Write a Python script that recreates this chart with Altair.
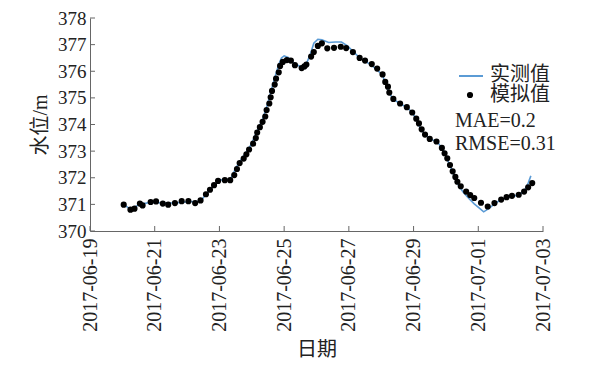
import altair as alt
import pandas as pd

# simulated (points): hours since 2017-06-19 00:00 and water level
sim_hours = [25, 30, 33, 37, 39, 45, 49, 54, 58, 63, 68, 73, 78, 82, 86, 89, 92, 95, 100, 104,
             107, 109, 111, 114, 116, 118, 121, 123, 124, 126, 128, 130, 131, 133, 134, 135, 137, 138, 140, 141,
             143, 146, 149, 152, 157, 159, 160.5, 164, 166, 169, 172, 176, 181, 186, 190, 195, 200, 204, 209, 213,
             217, 219, 221, 222, 225, 230, 235, 239, 242, 244, 246, 248.5, 252, 257, 261, 263, 265, 267, 269, 271,
             272.5, 275, 279, 282, 285, 290, 295, 300, 305, 309, 313, 318, 322, 325, 328]
sim_vals = [370.99, 370.80, 370.84, 371.03, 370.96, 371.09, 371.11, 371.03, 370.99, 371.05,
            371.12, 371.12, 371.05, 371.15, 371.38, 371.55, 371.72, 371.88, 371.91, 371.91,
            372.10, 372.33, 372.55, 372.72, 372.88, 373.06, 373.28, 373.49, 373.70, 373.90,
            374.10, 374.30, 374.54, 374.79, 375.02, 375.26, 375.50, 375.72, 375.96, 376.20,
            376.35, 376.42, 376.40, 376.23, 376.12, 376.18, 376.25, 376.55, 376.72, 376.95,
            377.05, 376.86, 376.88, 376.92, 376.87, 376.72, 376.50, 376.40, 376.27, 376.10,
            375.88, 375.60, 375.42, 375.20, 374.96, 374.79, 374.65, 374.45, 374.22, 374.04,
            373.82, 373.62, 373.46, 373.36, 373.12, 372.92, 372.73, 372.48, 372.24, 372.03,
            371.85, 371.68, 371.48, 371.35, 371.24, 371.06, 370.92, 371.05, 371.18, 371.27,
            371.32, 371.36, 371.48, 371.64, 371.80]

# observed (line)
obs_hours = [25, 30, 37, 45, 54, 63, 73, 82, 86, 92, 97, 104, 108.5, 113, 119, 123, 128, 131, 134, 137,
             140, 142, 144, 147, 152, 157, 160, 163.5, 166, 169, 172, 177, 182, 186.5, 191, 195, 200, 204, 209, 213,
             217, 219, 222, 225, 230, 235, 239, 242, 245, 249, 253, 258, 262, 264.5, 267.5, 270.5, 273.5, 277, 281, 285,
             289, 292, 296, 300, 305, 309, 313, 318, 322, 325, 327]
obs_vals = [370.99, 370.82, 371.00, 371.08, 371.05, 371.05, 371.10, 371.12, 371.38, 371.72,
            371.92, 371.93, 372.40, 372.75, 373.20, 373.65, 374.20, 374.65, 375.20, 375.75,
            376.25, 376.50, 376.58, 376.52, 376.28, 376.15, 376.22, 376.65, 377.05, 377.20,
            377.18, 377.08, 377.10, 377.10, 376.95, 376.75, 376.50, 376.38, 376.22, 376.05,
            375.85, 375.55, 375.18, 374.95, 374.78, 374.65, 374.45, 374.20, 373.85, 373.60,
            373.45, 373.32, 373.05, 372.75, 372.40, 372.02, 371.70, 371.45, 371.22, 371.02,
            370.85, 370.72, 370.85, 371.02, 371.18, 371.25, 371.30, 371.35, 371.50, 371.80,
            372.07]

x_ticks = ["2017-06-19", "2017-06-21", "2017-06-23", "2017-06-25",
           "2017-06-27", "2017-06-29", "2017-07-01", "2017-07-03"]
y_ticks = [370, 371, 372, 373, 374, 375, 376, 377, 378]
legend_labels = ["实测值", "模拟值"]
stats_labels = ["MAE=0.2", "RMSE=0.31"]

start = pd.Timestamp("2017-06-19")
fmt = "%Y-%m-%dT%H:%M:%S"
sim = pd.DataFrame({"date": (start + pd.to_timedelta(sim_hours, unit="h")).strftime(fmt), "value": sim_vals})
obs = pd.DataFrame({"date": (start + pd.to_timedelta(obs_hours, unit="h")).strftime(fmt), "value": obs_vals})
xt = pd.DataFrame({"date": [d + "T00:00:00" for d in x_ticks]})
yt = pd.DataFrame({"value": y_ticks})

FONT = "'Liberation Serif', 'Noto Sans CJK SC', serif"
TXT = "#222222"
AX = "#666666"
BLUE = "#5b9bd5"
W, H = 453, 213


def dt(s):
    y, m, d = (int(v) for v in s.split("-"))
    return alt.DateTime(year=y, month=m, date=d)


xscale = alt.Scale(domain=[dt(x_ticks[0]), dt(x_ticks[-1])])
yscale = alt.Scale(domain=[y_ticks[0], y_ticks[-1]], nice=False, zero=False)

xaxis = alt.Axis(title="日期", values=[dt(s) for s in x_ticks], format="%Y-%m-%d",
                 labelAngle=270, ticks=False, tickSize=0, labelPadding=7,
                 labelOverlap=False, grid=False, titlePadding=8)
yaxis = alt.Axis(title="水位/m", values=y_ticks, ticks=False, tickSize=0, labelPadding=4,
                 labelFontSize=19, grid=False, titleX=-50, titleY=H / 2, titleAngle=270,
                 titleAlign="center", titleBaseline="middle")

x_enc = alt.X("date:T", scale=xscale, axis=xaxis)
y_enc = alt.Y("value:Q", scale=yscale, axis=yaxis)

line = alt.Chart(obs).mark_line(color=BLUE, strokeWidth=1.6).encode(x=x_enc, y=y_enc)
pts = alt.Chart(sim).mark_circle(color="black", size=38, opacity=1).encode(x=x_enc, y=y_enc)

xtick = alt.Chart(xt).mark_rule(color=AX, strokeWidth=1).encode(
    x=x_enc, y=alt.value(H), y2=alt.value(H - 5))
ytick = alt.Chart(yt).mark_rule(color=AX, strokeWidth=1).encode(
    y=y_enc, x=alt.value(0), x2=alt.value(5))

one = pd.DataFrame({"k": [0]})
leg_line = alt.Chart(one).mark_rule(color=BLUE, strokeWidth=2).encode(
    x=alt.value(369), x2=alt.value(393), y=alt.value(58))
leg_dot = alt.Chart(one).mark_circle(color="black", size=38, opacity=1).encode(
    x=alt.value(380), y=alt.value(77))


def label(text, x, y):
    return alt.Chart(one).mark_text(text=text, align="left", baseline="middle",
                                    font=FONT, fontSize=20, color=TXT).encode(
        x=alt.value(x), y=alt.value(y))


texts = [label(legend_labels[0], 400, 57), label(legend_labels[1], 400, 77),
         label(stats_labels[0], 365, 103), label(stats_labels[1], 365, 126)]

chart = alt.layer(line, pts, xtick, ytick, leg_line, leg_dot, *texts).properties(
    width=W, height=H,
    autosize=alt.AutoSizeParams(type="none"),
    padding={"left": 82, "top": 10, "right": 46, "bottom": 133},
).configure_view(stroke=None).configure_axis(
    domainColor=AX, domainWidth=1,
    labelFont=FONT, titleFont=FONT, labelFontSize=20, titleFontSize=20,
    labelColor=TXT, titleColor=TXT, titleFontWeight="normal",
)

chart.save("out.html", embed_options={"renderer": "svg", "actions": False})
